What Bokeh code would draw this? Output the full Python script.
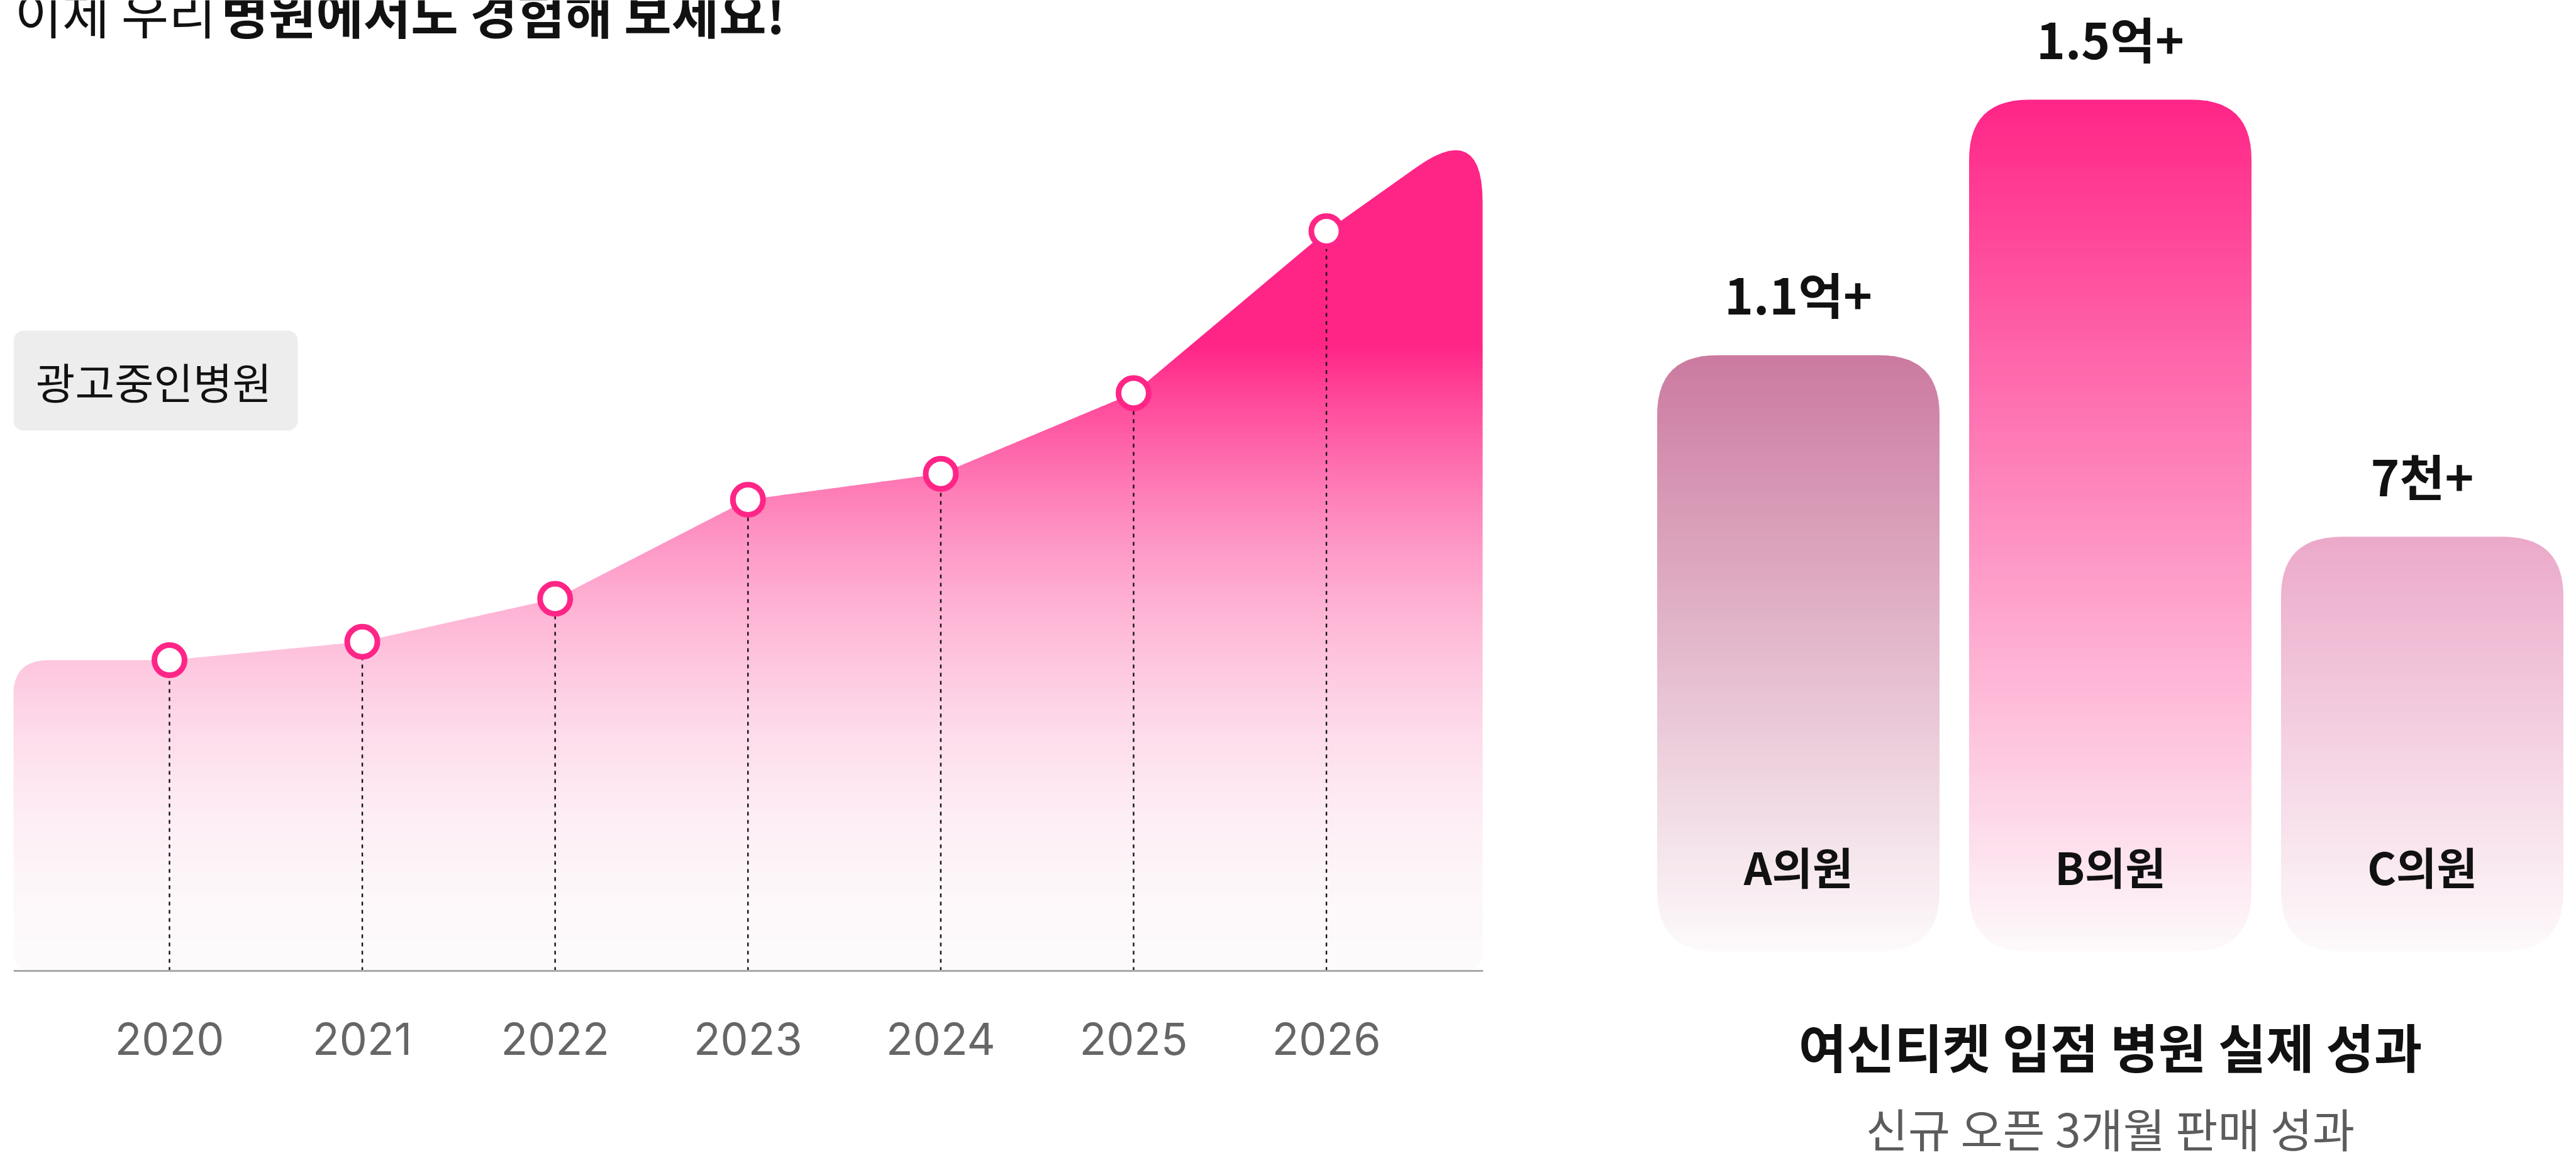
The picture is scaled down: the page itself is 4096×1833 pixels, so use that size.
import math
from bokeh.plotting import figure
from bokeh.layouts import row
from bokeh.models import ColumnDataSource, Range1d, Span
from bokeh.core.properties import value
from bokeh.embed import file_html
from bokeh.resources import INLINE

# ---------------- data ----------------
years = [2020, 2021, 2022, 2023, 2024, 2025, 2026]
year_labels = ["2020", "2021", "2022", "2023", "2024", "2025", "2026"]
area_values = [42.0, 44.5, 50.3, 63.7, 67.2, 78.1, 100.0]
area_start_value = 42.0
area_end_value = 115.0

headline_regular = "이제 우리"
headline_bold = "병원에서도 경험해 보세요!"
badge_label = "광고중인병원"

clinics = ["A의원", "B의원", "C의원"]
bar_heights = [1.05, 1.50, 0.73]
bar_value_labels = ["1.1억+", "1.5억+", "7천+"]
bar_top_colors = ["#cb7a9f", "#ff2587", "#eba9c9"]
panel_title = "여신티켓 입점 병원 실제 성과"
panel_subtitle = "신규 오픈 3개월 판매 성과"

# ---------------- style / layout ----------------
PINK = "#ff2587"
FADE = (253, 250, 251)
KR = "Noto Sans CJK KR"
H = 1833
LW, RW = 2460, 1636

# left panel geometry (pixels)
L_FL, L_FR, L_BASE = 21, 2358, 1543
px_per_year, px_per_unit, year0_px = 306.6, 11.76, 269
lx0 = years[0] + (L_FL - year0_px) / px_per_year
lx1 = years[0] + (L_FR - year0_px) / px_per_year
ly0 = -(H - L_BASE) / px_per_unit
ly1 = L_BASE / px_per_unit

def lx(px):
    return years[0] + (px - year0_px) / px_per_year

def ly(py):
    return (L_BASE - py) / px_per_unit

# right panel geometry (pixels)
px_per_slot, first_center_px, px_per_eok, bar_bottom_px = 496.0, 399.0, 902.6, 1512.0
rx0 = -first_center_px / px_per_slot
rx1 = rx0 + RW / px_per_slot
ry0 = -(H - bar_bottom_px) / px_per_eok
ry1 = bar_bottom_px / px_per_eok

def ry(py):
    return (bar_bottom_px - py) / px_per_eok


def hex_rgb(h):
    h = h.lstrip("#")
    return tuple(int(h[i:i + 2], 16) for i in (0, 2, 4))


def mix(c_top, k):
    r = [round(FADE[j] + k * (c_top[j] - FADE[j])) for j in range(3)]
    return "#%02x%02x%02x" % tuple(r)


def round_poly(pts, radii, sx, sy, steps=14):
    P = [(x * sx, y * sy) for x, y in pts]
    n = len(P)
    out = []
    for i in range(n):
        r = radii[i]
        cx, cy = P[i]
        if r <= 0:
            out.append((cx, cy))
            continue
        ax, ay = P[i - 1]
        bx, by = P[(i + 1) % n]
        da = math.hypot(ax - cx, ay - cy)
        db = math.hypot(bx - cx, by - cy)
        ra, rb = min(r, da / 2), min(r, db / 2)
        p0 = (cx + (ax - cx) / da * ra, cy + (ay - cy) / da * ra)
        p2 = (cx + (bx - cx) / db * rb, cy + (by - cy) / db * rb)
        for k in range(steps + 1):
            t = k / steps
            x = (1 - t) ** 2 * p0[0] + 2 * t * (1 - t) * cx + t * t * p2[0]
            y = (1 - t) ** 2 * p0[1] + 2 * t * (1 - t) * cy + t * t * p2[1]
            out.append((x, y))
    return [(x / sx, y / sy) for x, y in out]


def clip_half(poly, y0, above):
    out = []
    n = len(poly)
    for i in range(n):
        cx, cy = poly[i]
        px, py = poly[i - 1]
        cin = cy >= y0 if above else cy <= y0
        pin = py >= y0 if above else py <= y0
        if cin:
            if not pin:
                t = (y0 - py) / (cy - py)
                out.append((px + t * (cx - px), y0))
            out.append((cx, cy))
        elif pin:
            t = (y0 - py) / (cy - py)
            out.append((px + t * (cx - px), y0))
    return out


def band_patches(poly, edges, colors, eps):
    xs, ys, cs = [], [], []
    for i in range(len(edges) - 1):
        a, b = edges[i], edges[i + 1] + eps
        q = clip_half(poly, a, True)
        if len(q) < 3:
            continue
        q = clip_half(q, b, False)
        if len(q) < 3:
            continue
        xs.append([p[0] for p in q])
        ys.append([p[1] for p in q])
        cs.append(colors[i])
    return xs, ys, cs


def clean(p):
    p.outline_line_color = None
    p.background_fill_color = "white"
    p.border_fill_color = "white"
    p.grid.visible = False
    p.xgrid.visible = False
    p.ygrid.visible = False


# ================= LEFT PANEL =================
left = figure(width=LW, height=H, x_range=Range1d(lx0, lx1), y_range=Range1d(ly0, ly1),
              output_backend="svg", toolbar_location=None,
              x_axis_location=None, y_axis_location=None,
              min_border_left=L_FL, min_border_right=LW - L_FR,
              min_border_top=0, min_border_bottom=0)
clean(left)

xl = years[0] - 0.81
xr = years[-1] + 0.81
area_poly = [(xl, 0.0), (xl, area_start_value)] + list(zip(years, area_values)) + \
            [(xr, area_end_value), (xr, 0.0)]
area_radii = [30, 56] + [0] * len(years) + [130, 30]
area_rounded = round_poly(area_poly, area_radii, px_per_year, px_per_unit)

GRAD_TOP_PX = 549
grad_start = ly(GRAD_TOP_PX)
step = 7.0 / px_per_unit
edges = []
y = 0.0
while y < grad_start:
    edges.append(y)
    y += step
edges += [grad_start, ly1 + 5]
pink_rgb = hex_rgb(PINK)
colors = []
for i in range(len(edges) - 1):
    mid = 0.5 * (edges[i] + min(edges[i + 1], grad_start + 1))
    py = L_BASE - mid * px_per_unit
    if py <= GRAD_TOP_PX:
        k = 1.0
    else:
        k = max(0.0, 1 - (py - GRAD_TOP_PX) / (L_BASE - GRAD_TOP_PX)) ** 2
    colors.append(mix(pink_rgb, k))
axs, ays, acs = band_patches(area_rounded, edges, colors, 1.2 / px_per_unit)
left.patches(xs="xs", ys="ys", fill_color="c", line_color=None,
             source=ColumnDataSource(dict(xs=axs, ys=ays, c=acs)))

# baseline (x axis line)
left.add_layout(Span(location=0, dimension="width", line_color="#a8a8a8", line_width=3))

# dashed drop lines + markers
left.segment(x0=years, y0=[0.0] * len(years), x1=years, y1=area_values,
             line_color="#111111", line_width=2.4, line_dash="6 7")
left.scatter(x=years, y=area_values, marker="circle", size=48,
             fill_color="white", line_color=PINK, line_width=9)

# year tick labels
left.text(x=years, y=[ly(1651)] * len(years), text=year_labels,
          text_font=value("Inter"), text_font_size="70px", text_color="#666666",
          text_align="center", text_baseline="middle")

# badge
left.quad(left=[lx(21)], right=[lx(473)], top=[ly(525)], bottom=[ly(684)],
          fill_color="#ededed", line_color=None, border_radius=16)
left.text(x=[lx(244)], y=[ly(605)], text=[badge_label], text_font=value(KR),
          text_font_size="68px", text_color="#111111",
          text_align="center", text_baseline="middle")

# headline
left.text(x=[lx(23)], y=[ly(18)], text=[headline_regular], text_font=value(KR),
          text_font_size="82px", text_color="#111111",
          text_align="left", text_baseline="middle")
left.text(x=[lx(351)], y=[ly(18)], text=[headline_bold], text_font=value(KR),
          text_font_size="82px", text_font_style="bold", text_color="#111111",
          text_align="left", text_baseline="middle")

# ================= RIGHT PANEL =================
right = figure(width=RW, height=H, x_range=Range1d(rx0, rx1), y_range=Range1d(ry0, ry1),
               output_backend="svg", toolbar_location=None,
               x_axis_location=None, y_axis_location=None, min_border=0)
clean(right)

bar_width = 449.0 / px_per_slot
bstep = 7.0 / px_per_eok
bxs, bys, bcs = [], [], []
for i, (h, col) in enumerate(zip(bar_heights, bar_top_colors)):
    hw = bar_width / 2
    poly = [(i - hw, 0.0), (i - hw, h), (i + hw, h), (i + hw, 0.0)]
    rp = round_poly(poly, [95, 95, 95, 95], px_per_slot, px_per_eok)
    e = []
    y = 0.0
    while y < h:
        e.append(y)
        y += bstep
    e.append(h + 0.01)
    crgb = hex_rgb(col)
    cl = [mix(crgb, min(1.0, 0.5 * (e[j] + e[j + 1]) / h)) for j in range(len(e) - 1)]
    xs_, ys_, cs_ = band_patches(rp, e, cl, 1.2 / px_per_eok)
    bxs += xs_
    bys += ys_
    bcs += cs_
right.patches(xs="xs", ys="ys", fill_color="c", line_color=None,
              source=ColumnDataSource(dict(xs=bxs, ys=bys, c=bcs)))

idx = list(range(len(clinics)))
right.text(x=idx, y=[h + 99.0 / px_per_eok for h in bar_heights], text=bar_value_labels,
           text_font=value(KR), text_font_size="78px", text_font_style="bold",
           text_color="#111111", text_align="center", text_baseline="middle")
right.text(x=idx, y=[ry(1376)] * len(idx), text=clinics,
           text_font=value(KR), text_font_size="70px", text_font_style="bold",
           text_color="#111111", text_align="center", text_baseline="middle")
right.text(x=[1], y=[ry(1661)], text=[panel_title], text_font=value(KR),
           text_font_size="83px", text_font_style="bold", text_color="#111111",
           text_align="center", text_baseline="middle")
right.text(x=[1], y=[ry(1791)], text=[panel_subtitle], text_font=value(KR),
           text_font_size="73px", text_color="#5c5c5c",
           text_align="center", text_baseline="middle")

layout = row(left, right)
open("out.html", "w").write(file_html(layout, INLINE, "chart"))
